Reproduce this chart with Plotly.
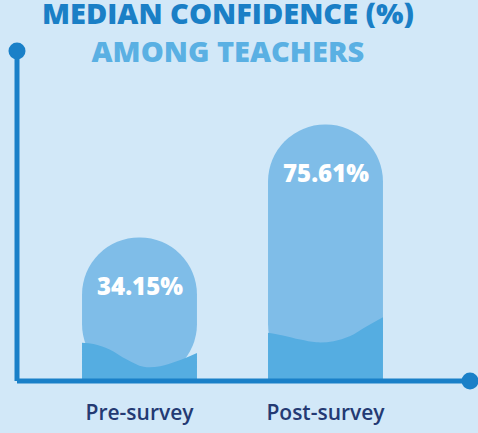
import plotly.graph_objects as go

# ---- data ----
categories = ["Pre-survey", "Post-survey"]
median_confidence = [34.15, 75.61]
value_labels = ["34.15%", "75.61%"]
title_lines = ["MEDIAN CONFIDENCE (%)", "AMONG TEACHERS"]

# decorative wave (height above bar base, axis units) sampled across bar width
wave_frac_pre = [0, 0.1, 0.24, 0.39, 0.536, 0.68, 0.83, 1.0]
wave_h_pre = [14.0, 13.6, 11.6, 7.9, 5.2, 5.4, 7.3, 10.3]
wave_frac_post = [0, 0.13, 0.28, 0.42, 0.57, 0.71, 0.86, 1.0]
wave_h_post = [17.7, 16.7, 15.2, 14.2, 14.6, 16.4, 20.1, 23.4]

# ---- style ----
BG = "#d2e8f8"
BAR = "#7fbde8"
WAVE = "#55ade1"
AXIS = "#1a80c8"
TITLE1 = "#1a7fc6"
TITLE2 = "#5ab0e3"
NAVY = "#243a73"
FONT = "Open Sans"
BASE = -18.5
BAR_W = 0.618
X_RANGE = [-0.6586, 1.7769]
Y_RANGE = [BASE, 102.6]

fig = go.Figure()

fig.add_trace(go.Bar(
    x=list(range(len(categories))),
    y=[v - BASE for v in median_confidence],
    base=BASE,
    width=BAR_W,
    marker=dict(color=BAR, line=dict(width=0)),
    hoverinfo="skip",
    showlegend=False,
))

for i, (fr, hh) in enumerate([(wave_frac_pre, wave_h_pre), (wave_frac_post, wave_h_post)]):
    left = i - BAR_W / 2
    xs = [left + f * BAR_W for f in fr]
    fig.add_trace(go.Scatter(
        x=[xs[0], xs[-1]], y=[BASE, BASE], mode="lines",
        line=dict(width=0, color=WAVE), hoverinfo="skip", showlegend=False,
    ))
    fig.add_trace(go.Scatter(
        x=xs, y=[BASE + h for h in hh], mode="lines",
        line=dict(width=0, color=WAVE, shape="spline", smoothing=1.0),
        fill="tonexty", fillcolor=WAVE, hoverinfo="skip", showlegend=False,
    ))

annotations = []
for i, (v, lab) in enumerate(zip(median_confidence, value_labels)):
    annotations.append(dict(
        x=i, y=v, xref="x", yref="y", text=lab, showarrow=False,
        yanchor="top", yshift=-29,
        font=dict(family=FONT, size=24, color="white", weight=800),
    ))

annotations.append(dict(
    x=0.4658, y=1.0576, xref="paper", yref="paper",
    text=f"{title_lines[0]}<br><span style='color:{TITLE2}'>{title_lines[1]}</span>",
    showarrow=False, xanchor="center", yanchor="middle", align="center",
    font=dict(family=FONT, size=29, color=TITLE1, weight=800),
))

shapes = [
    dict(type="line", xref="paper", yref="paper", x0=0, x1=0, y0=0, y1=1,
         line=dict(color=AXIS, width=5), layer="above"),
    dict(type="line", xref="paper", yref="paper", x0=0, x1=1, y0=0, y1=0,
         line=dict(color=AXIS, width=5), layer="above"),
    dict(type="circle", xref="paper", yref="paper", xsizemode="pixel", ysizemode="pixel",
         xanchor=0, yanchor=1, x0=-8.5, x1=8.5, y0=-8.5, y1=8.5,
         fillcolor=AXIS, line=dict(width=0), layer="above"),
    dict(type="circle", xref="paper", yref="paper", xsizemode="pixel", ysizemode="pixel",
         xanchor=1, yanchor=0, x0=-8.5, x1=8.5, y0=-8.5, y1=8.5,
         fillcolor=AXIS, line=dict(width=0), layer="above"),
]

fig.update_layout(
    width=478, height=433,
    margin=dict(l=17, r=8, t=51, b=52),
    paper_bgcolor=BG, plot_bgcolor=BG,
    barcornerradius="50%",
    showlegend=False,
    annotations=annotations,
    shapes=shapes,
    xaxis=dict(
        range=X_RANGE, tickvals=list(range(len(categories))), ticktext=categories,
        showgrid=False, zeroline=False, showline=False, ticks="",
        tickfont=dict(family=FONT, size=21, color=NAVY, weight=600),
        ticklabelstandoff=17, fixedrange=True,
    ),
    yaxis=dict(range=Y_RANGE, showgrid=False, zeroline=False, showline=False,
               showticklabels=False, ticks="", fixedrange=True),
)

fig.write_html(
    "out.html",
    config={"displayModeBar": False, "staticPlot": True},
    post_script="document.body.style.margin='0';document.body.style.background='" + BG + "';",
)
